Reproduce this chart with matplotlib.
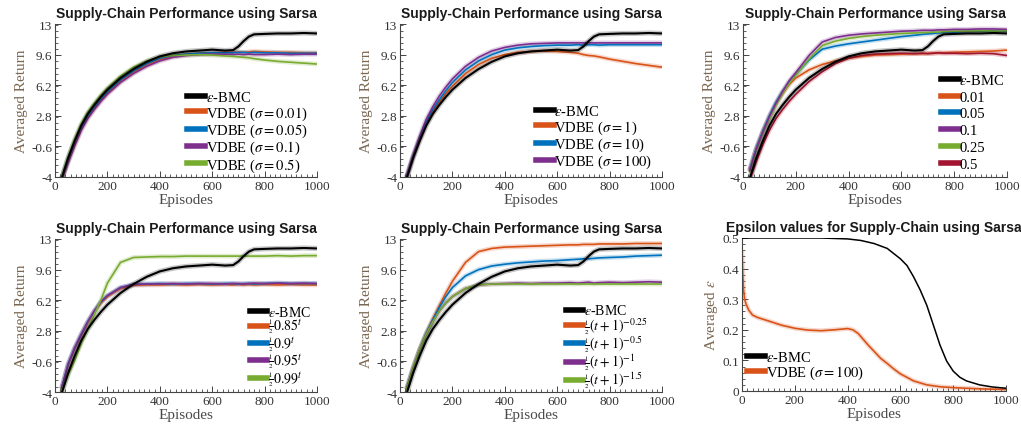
import matplotlib
matplotlib.use('Agg')
import matplotlib.pyplot as plt
from matplotlib.lines import Line2D
from matplotlib.ticker import MultipleLocator

plt.rcParams['mathtext.fontset'] = 'stix'
plt.rcParams['axes.unicode_minus'] = False

# ---------------- data ----------------
episodes = [25, 50, 75, 100, 125, 150, 175, 200, 250, 300, 350, 400, 450, 500, 550,
            600, 650, 680, 700, 720, 740, 760, 800, 850, 900, 950, 1000]

bmc = [-4.2, -1.9, 0.0, 1.7, 3.0, 4.0, 4.9, 5.7, 7.0, 8.0, 8.8, 9.4, 9.75, 9.95, 10.05,
       10.15, 10.05, 10.1, 10.5, 11.1, 11.6, 11.85, 11.9, 11.95, 11.95, 12.0, 11.95]

# panel 1: VDBE sigma 0.01 / 0.05 / 0.1 / 0.5
p1_s001 = [-4.3, -2.3, -0.4, 1.3, 2.6, 3.6, 4.5, 5.3, 6.6, 7.6, 8.4, 9.0, 9.4, 9.6, 9.75,
           9.8, 9.85, 9.85, 9.9, 9.85, 9.9, 9.95, 9.9, 9.85, 9.85, 9.8, 9.8]
p1_s005 = [-4.2, -2.1, -0.2, 1.5, 2.8, 3.8, 4.7, 5.5, 6.8, 7.8, 8.6, 9.2, 9.5, 9.65, 9.75,
           9.8, 9.8, 9.8, 9.85, 9.85, 9.8, 9.85, 9.8, 9.8, 9.75, 9.75, 9.75]
p1_s01 = [-4.4, -2.4, -0.5, 1.2, 2.5, 3.5, 4.4, 5.2, 6.5, 7.5, 8.3, 8.9, 9.3, 9.5, 9.6,
          9.65, 9.65, 9.6, 9.65, 9.6, 9.65, 9.6, 9.6, 9.65, 9.6, 9.65, 9.65]
p1_s05 = [-4.1, -1.8, 0.2, 1.9, 3.2, 4.2, 5.1, 5.9, 7.2, 8.2, 8.9, 9.35, 9.5, 9.55, 9.6,
          9.55, 9.45, 9.4, 9.35, 9.3, 9.25, 9.15, 9.0, 8.85, 8.75, 8.65, 8.55]

# panel 2: VDBE sigma 1 / 10 / 100
p2_s1 = [-4.1, -1.8, 0.2, 1.9, 3.2, 4.3, 5.3, 6.1, 7.5, 8.5, 9.2, 9.6, 9.85, 9.95, 10.0,
         9.95, 9.85, 9.75, 9.6, 9.5, 9.45, 9.35, 9.1, 8.85, 8.6, 8.4, 8.2]
p2_s10 = [-4.0, -1.7, 0.3, 2.1, 3.5, 4.6, 5.6, 6.5, 7.9, 8.9, 9.6, 10.1, 10.35, 10.5, 10.6,
          10.65, 10.65, 10.7, 10.65, 10.7, 10.7, 10.65, 10.7, 10.7, 10.7, 10.7, 10.7]
p2_s100 = [-3.9, -1.6, 0.5, 2.4, 3.8, 5.0, 6.0, 6.9, 8.3, 9.3, 10.0, 10.4, 10.65, 10.8, 10.85,
           10.9, 10.9, 10.9, 10.9, 10.9, 10.9, 10.9, 10.9, 10.9, 10.9, 10.9, 10.9]

# panel 3: sigma 0.01 / 0.05 / 0.1 / 0.25 / 0.5
p3_001 = [-3.3, -0.9, 1.0, 2.7, 4.1, 5.3, 6.3, 7.0, 7.9, 8.5, 8.9, 9.2, 9.4, 9.55, 9.6,
          9.65, 9.7, 9.7, 9.75, 9.75, 9.8, 9.8, 9.85, 9.9, 9.95, 10.0, 10.1]
p3_005 = [-3.2, -0.8, 1.1, 2.8, 4.3, 5.5, 6.5, 7.4, 9.0, 10.2, 10.55, 10.8, 11.0, 11.2, 11.4,
          11.6, 11.75, 11.85, 11.9, 11.95, 12.0, 12.05, 12.1, 12.15, 12.2, 12.2, 12.2]
p3_01 = [-3.3, -0.9, 1.0, 2.7, 4.2, 5.5, 6.7, 7.6, 9.5, 11.0, 11.5, 11.75, 11.9, 12.0, 12.1,
         12.2, 12.25, 12.3, 12.3, 12.3, 12.35, 12.35, 12.4, 12.4, 12.45, 12.45, 12.4]
p3_025 = [-3.4, -1.0, 0.9, 2.5, 4.0, 5.3, 6.4, 7.3, 9.1, 10.6, 11.1, 11.4, 11.6, 11.75, 11.85,
          11.95, 12.0, 12.05, 12.05, 12.1, 12.1, 12.15, 12.2, 12.2, 12.25, 12.2, 12.25]
p3_05 = [-4.4, -2.3, -0.4, 1.2, 2.5, 3.5, 4.4, 5.2, 6.6, 7.7, 8.6, 9.2, 9.5, 9.65, 9.7,
         9.75, 9.7, 9.75, 9.7, 9.75, 9.8, 9.75, 9.75, 9.7, 9.75, 9.7, 9.5]

# panel 4: 1/2 * base^t
p4_085 = [-3.7, -1.0, 0.8, 2.3, 3.7, 4.9, 5.9, 6.6, 7.5, 7.85, 7.9, 7.9, 7.95, 7.9, 7.95,
          7.9, 7.95, 7.9, 7.95, 7.9, 7.95, 7.9, 7.95, 7.9, 7.95, 7.9, 7.9]
p4_09 = [-3.6, -0.9, 0.9, 2.4, 3.8, 5.0, 6.0, 6.7, 7.6, 7.95, 8.0, 8.05, 8.0, 8.05, 8.05,
         8.0, 8.05, 8.05, 8.0, 8.05, 8.05, 8.0, 8.05, 8.1, 8.05, 8.05, 8.05]
p4_095 = [-3.6, -0.9, 0.9, 2.4, 3.8, 5.0, 6.0, 6.7, 7.6, 7.95, 8.0, 8.0, 8.05, 8.0, 8.05,
          8.05, 8.0, 8.05, 8.05, 8.0, 8.05, 8.1, 8.05, 8.1, 8.05, 8.1, 8.05]
p4_099 = [-3.9, -2.1, -0.5, 1.4, 3.0, 4.6, 6.2, 8.1, 10.4, 10.95, 11.0, 11.05, 11.05, 11.1, 11.1,
          11.1, 11.1, 11.1, 11.1, 11.1, 11.1, 11.1, 11.1, 11.15, 11.1, 11.15, 11.15]

# panel 5: 1/2 * (t+1)^p
p5_025 = [-3.7, -1.4, 0.7, 2.5, 4.1, 5.6, 7.0, 8.3, 10.4, 11.6, 11.95, 12.1, 12.15, 12.2, 12.25,
          12.3, 12.35, 12.35, 12.4, 12.4, 12.4, 12.45, 12.45, 12.45, 12.5, 12.5, 12.5]
p5_05 = [-3.7, -1.4, 0.7, 2.5, 4.0, 5.4, 6.6, 7.6, 8.9, 9.6, 10.0, 10.2, 10.35, 10.45, 10.55,
         10.6, 10.7, 10.75, 10.8, 10.8, 10.85, 10.9, 10.95, 11.0, 11.1, 11.15, 11.2]
p5_1 = [-3.7, -1.3, 0.7, 2.4, 3.8, 5.0, 5.9, 6.6, 7.5, 7.9, 8.0, 8.05, 8.1, 8.05, 8.1,
        8.1, 8.15, 8.1, 8.15, 8.2, 8.1, 8.15, 8.2, 8.15, 8.2, 8.25, 8.2]
p5_15 = [-3.7, -1.3, 0.7, 2.4, 3.8, 5.0, 5.9, 6.6, 7.5, 7.9, 8.0, 8.0, 8.0, 8.0, 8.0,
         8.0, 8.0, 8.0, 8.0, 8.0, 8.0, 8.0, 8.0, 8.0, 8.0, 8.0, 8.0]

# panel 6: epsilon values
eps_ep_bmc = [0, 100, 200, 300, 400, 450, 500, 550, 600, 625, 650, 675, 700, 725, 750,
              775, 800, 825, 850, 900, 950, 1000]
eps_bmc = [0.5, 0.5, 0.5, 0.5, 0.497, 0.492, 0.482, 0.466, 0.432, 0.41, 0.373, 0.33, 0.28, 0.215, 0.15,
           0.098, 0.065, 0.045, 0.033, 0.02, 0.013, 0.009]
eps_ep_vdbe = [0, 3, 6, 10, 15, 25, 40, 60, 100, 150, 200, 250, 300, 350, 400, 420, 440, 460,
               480, 500, 525, 550, 575, 600, 650, 700, 750, 800, 900, 1000]
eps_vdbe = [0.46, 0.38, 0.33, 0.3, 0.285, 0.265, 0.248, 0.24, 0.229, 0.215, 0.205, 0.199, 0.197,
            0.2, 0.204, 0.2, 0.188, 0.168, 0.148, 0.13, 0.107, 0.09, 0.072, 0.056, 0.033, 0.02,
            0.014, 0.011, 0.007, 0.005]

ret_ticks = [-4, -0.6, 2.8, 6.2, 9.6, 13]
ret_ticklabels = ['-4', '-0.6', '2.8', '6.2', '9.6', '13']
eps_ticks = [0, 0.1, 0.2, 0.3, 0.4, 0.5]
eps_ticklabels = ['0', '0.1', '0.2', '0.3', '0.4', '0.5']
x_ticks = [0, 200, 400, 600, 800, 1000]

# ---------------- style ----------------
BLACK = '#000000'
ORANGE = '#D95319'
BLUE = '#0072BD'
PURPLE = '#7E2F8E'
GREEN = '#77AC30'
RED = '#A2142F'

SERIF = ['Liberation Serif', 'DejaVu Serif']
SANS = ['Liberation Sans', 'DejaVu Sans']
TITLE = 'Supply-Chain Performance using Sarsa'
HALF = r'\genfrac{}{}{0.5}{2}{1}{2}'

W, H = 1021, 431
fig = plt.figure(figsize=(W / 100, H / 100), dpi=100)


def rect(l, r, t, b):
    return [l / W, 1 - b / H, (r - l) / W, (b - t) / H]


def style(ax, yticks, ylabels, ylim, ylabel, title):
    ax.set_xlim(0, 1000)
    ax.set_ylim(*ylim)
    for s in ['top', 'right']:
        ax.spines[s].set_visible(False)
    for s in ['left', 'bottom']:
        ax.spines[s].set_color('#444444')
        ax.spines[s].set_linewidth(0.8)
    ax.set_xticks(x_ticks)
    ax.set_xticklabels([str(v) for v in x_ticks])
    ax.set_yticks(yticks)
    ax.set_yticklabels(ylabels)
    ax.xaxis.set_minor_locator(MultipleLocator(20))
    ax.yaxis.set_minor_locator(MultipleLocator((yticks[1] - yticks[0]) / 5))
    ax.tick_params(which='major', direction='in', length=4, width=0.7, color='#444444',
                   labelsize=9.5, labelcolor='#333333', pad=2)
    ax.tick_params(which='minor', direction='in', length=2, width=0.6, color='#444444')
    for lab in ax.get_xticklabels() + ax.get_yticklabels():
        lab.set_family(SERIF)
    ax.set_xlabel('Episodes', family=SERIF, fontsize=11, color='#4a4a4a', labelpad=1)
    ax.set_ylabel(ylabel, family=SERIF, fontsize=11, color='#7a6650', labelpad=2)
    ax.set_title(title, family=SANS, fontsize=10, fontweight='bold', color='#1a1a1a', pad=5)


def draw(ax, x, y, color, z, lw=1.2):
    ax.plot(x, y, color=color, lw=lw + 2.2, alpha=0.22, zorder=z, solid_capstyle='butt')
    ax.plot(x, y, color=color, lw=lw, zorder=z + 0.5)


def legend(ax, colors, labels, x, y, fs=10.5, spacing=0.0):
    handles = [Line2D([0], [0], color=c, lw=4) for c in colors]
    ax.legend(handles, labels, loc='center left', bbox_to_anchor=(x, y), frameon=False,
              prop={'family': SERIF, 'size': fs}, handlelength=1.2, handletextpad=0.05,
              labelspacing=spacing, borderpad=0, borderaxespad=0)


ret_ylim = (-4, 13)

# panel 1
ax = fig.add_axes(rect(55, 317, 25, 178))
draw(ax, episodes, p1_s001, ORANGE, 2)
draw(ax, episodes, p1_s005, BLUE, 2)
draw(ax, episodes, p1_s01, PURPLE, 2)
draw(ax, episodes, p1_s05, GREEN, 2)
draw(ax, episodes, bmc, BLACK, 3, lw=1.5)
style(ax, ret_ticks, ret_ticklabels, ret_ylim, 'Averaged Return', TITLE)
legend(ax, [BLACK, ORANGE, BLUE, PURPLE, GREEN],
       [r'$\varepsilon$-BMC', r'VDBE ($\sigma = 0.01$)', r'VDBE ($\sigma = 0.05$)',
        r'VDBE ($\sigma = 0.1$)', r'VDBE ($\sigma = 0.5$)'], 0.505, 0.295)

# panel 2
ax = fig.add_axes(rect(400, 662, 25, 178))
draw(ax, episodes, p2_s1, ORANGE, 2)
draw(ax, episodes, p2_s10, BLUE, 2)
draw(ax, episodes, p2_s100, PURPLE, 2)
draw(ax, episodes, bmc, BLACK, 3, lw=1.5)
style(ax, ret_ticks, ret_ticklabels, ret_ylim, 'Averaged Return', TITLE)
legend(ax, [BLACK, ORANGE, BLUE, PURPLE],
       [r'$\varepsilon$-BMC', r'VDBE ($\sigma = 1$)', r'VDBE ($\sigma = 10$)',
        r'VDBE ($\sigma = 100$)'], 0.52, 0.26)

# panel 3
ax = fig.add_axes(rect(743, 1007, 25, 178))
draw(ax, episodes, p3_001, ORANGE, 2)
draw(ax, episodes, p3_005, BLUE, 2)
draw(ax, episodes, p3_025, GREEN, 2)
draw(ax, episodes, p3_01, PURPLE, 2)
draw(ax, episodes, p3_05, RED, 2)
draw(ax, episodes, bmc, BLACK, 3, lw=1.5)
style(ax, ret_ticks, ret_ticklabels, ret_ylim, 'Averaged Return', TITLE)
legend(ax, [BLACK, ORANGE, BLUE, PURPLE, GREEN, RED],
       [r'$\varepsilon$-BMC', '0.01', '0.05', '0.1', '0.25', '0.5'], 0.75, 0.36,
       spacing=0.25)

# panel 4
ax = fig.add_axes(rect(55, 317, 240, 393))
draw(ax, episodes, p4_085, ORANGE, 2)
draw(ax, episodes, p4_09, BLUE, 2)
draw(ax, episodes, p4_095, PURPLE, 2)
draw(ax, episodes, p4_099, GREEN, 2)
draw(ax, episodes, bmc, BLACK, 3, lw=1.5)
style(ax, ret_ticks, ret_ticklabels, ret_ylim, 'Averaged Return', TITLE)
legend(ax, [BLACK, ORANGE, BLUE, PURPLE, GREEN],
       [r'$\varepsilon$-BMC', r'$' + HALF + r'0.85^t$', r'$' + HALF + r'0.9^t$',
        r'$' + HALF + r'0.95^t$', r'$' + HALF + r'0.99^t$'], 0.745, 0.295, fs=10,
       spacing=-0.13)

# panel 5
ax = fig.add_axes(rect(400, 662, 240, 393))
draw(ax, episodes, p5_025, ORANGE, 2)
draw(ax, episodes, p5_05, BLUE, 2)
draw(ax, episodes, p5_1, PURPLE, 2)
draw(ax, episodes, p5_15, GREEN, 2)
draw(ax, episodes, bmc, BLACK, 3, lw=1.5)
style(ax, ret_ticks, ret_ticklabels, ret_ylim, 'Averaged Return', TITLE)
legend(ax, [BLACK, ORANGE, BLUE, PURPLE, GREEN],
       [r'$\varepsilon$-BMC', r'$' + HALF + r'(t+1)^{-0.25}$', r'$' + HALF + r'(t+1)^{-0.5}$',
        r'$' + HALF + r'(t+1)^{-1}$', r'$' + HALF + r'(t+1)^{-1.5}$'], 0.635, 0.295, fs=10,
       spacing=-0.13)

# panel 6
ax = fig.add_axes(rect(742, 1006, 239, 392))
draw(ax, eps_ep_vdbe, eps_vdbe, ORANGE, 2)
ax.plot(eps_ep_bmc, eps_bmc, color=BLACK, lw=1.1, zorder=3)
style(ax, eps_ticks, eps_ticklabels, (0, 0.5), r'Averaged $\varepsilon$',
      'Epsilon values for Supply-Chain using Sarsa')
legend(ax, [BLACK, ORANGE], [r'$\varepsilon$-BMC', r'VDBE ($\sigma = 100$)'], 0.02, 0.165)

fig.savefig('out.png', dpi=100)
